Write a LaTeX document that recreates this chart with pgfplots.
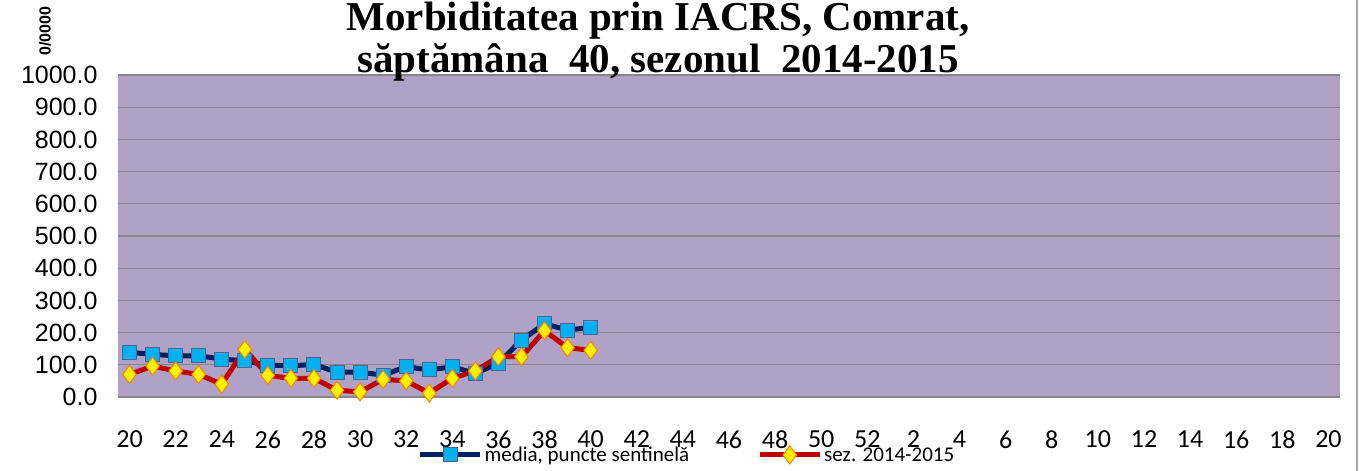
\documentclass[border=0pt]{standalone}
\usepackage{pgfplots}
\pgfplotsset{compat=1.18}
\usepackage{fontspec}
\setmainfont{Liberation Serif}
\newfontfamily\carlito{Carlito}
\newfontfamily\arial{Liberation Sans}
\definecolor{bgpurple}{HTML}{B0A2C7}
\definecolor{navy}{HTML}{002060}
\definecolor{skyb}{HTML}{00B0F0}
\definecolor{dred}{HTML}{C00000}
\definecolor{gridg}{HTML}{868686}
\begin{document}
\begin{tikzpicture}
\path[use as bounding box] (0,0) rectangle (1360pt,471pt);
\draw[gray!70, line width=1.5pt] (1357pt,0pt) -- (1357pt,471pt);
\node[rotate=90, font=\arial\bfseries\fontsize{16}{16}\selectfont] at (45pt,440pt) {0/0000};
\begin{axis}[
  at={(118pt,74pt)}, anchor=south west,
  scale only axis, width=1222pt, height=322pt,
  xmin=-0.5, xmax=52.5, ymin=0, ymax=1000,
  axis background/.style={fill=bgpurple},
  axis line style={draw=none},
  major tick length=0pt,
  ytick={0,100,...,1000},
  ymajorgrids,
  grid style={gridg, line width=1.2pt},
  yticklabel style={/pgf/number format/fixed, /pgf/number format/fixed zerofill, /pgf/number format/precision=1, /pgf/number format/1000 sep={}, /pgf/number format/assume math mode=true, font=\arial\fontsize{25}{25}\selectfont, xshift=-17pt},
  xtick={0,2,...,52},
  xticklabels={20,22,24,26,28,30,32,34,36,38,40,42,44,46,48,50,52,2,4,6,8,10,12,14,16,18,20},
  xticklabel style={font=\carlito\fontsize{26}{26}\selectfont, yshift=-30pt},
  title={Morbiditatea prin IACRS, Comrat,\\ săptămâna\ \ 40, sezonul\ \ 2014-2015},
  title style={font=\bfseries\fontsize{41}{42}\selectfont, align=center, at={(axis description cs:0.442,1)}, anchor=south, yshift=-16pt},
  legend columns=2,
  legend style={at={(axis description cs:0.245,-0.18)}, anchor=west, draw=none, fill=none, inner sep=0pt, font=\carlito\fontsize{21}{21}\selectfont, /tikz/every even column/.append style={column sep=66pt}},
  legend image code/.code={\draw[#1, mark repeat=2, mark phase=2] plot coordinates {(0pt,0pt) (30pt,0pt) (60pt,0pt)};},
]
\addplot[navy, line width=5pt, mark=square*, mark size=7pt, mark options={fill=skyb, draw=navy!70, line width=1pt}] coordinates {
(0,139) (1,132) (2,128) (3,128) (4,118) (5,112) (6,99) (7,97) (8,101) (9,77) (10,77)
(11,68) (12,94) (13,84) (14,94) (15,73) (16,105) (17,177) (18,227) (19,208) (20,216)
};
\addlegendentry{media, puncte sentinelă}
\addplot[dred, line width=5pt, mark=diamond*, mark size=9pt, mark options={fill=yellow, draw=orange, line width=1pt}] coordinates {
(0,70) (1,96) (2,81) (3,70) (4,40) (5,148) (6,67) (7,58) (8,58) (9,21) (10,16)
(11,55) (12,50) (13,12) (14,58) (15,81) (16,125) (17,125) (18,206) (19,153) (20,145)
};
\addlegendentry{sez. 2014-2015}
\end{axis}
\end{tikzpicture}
\end{document}
